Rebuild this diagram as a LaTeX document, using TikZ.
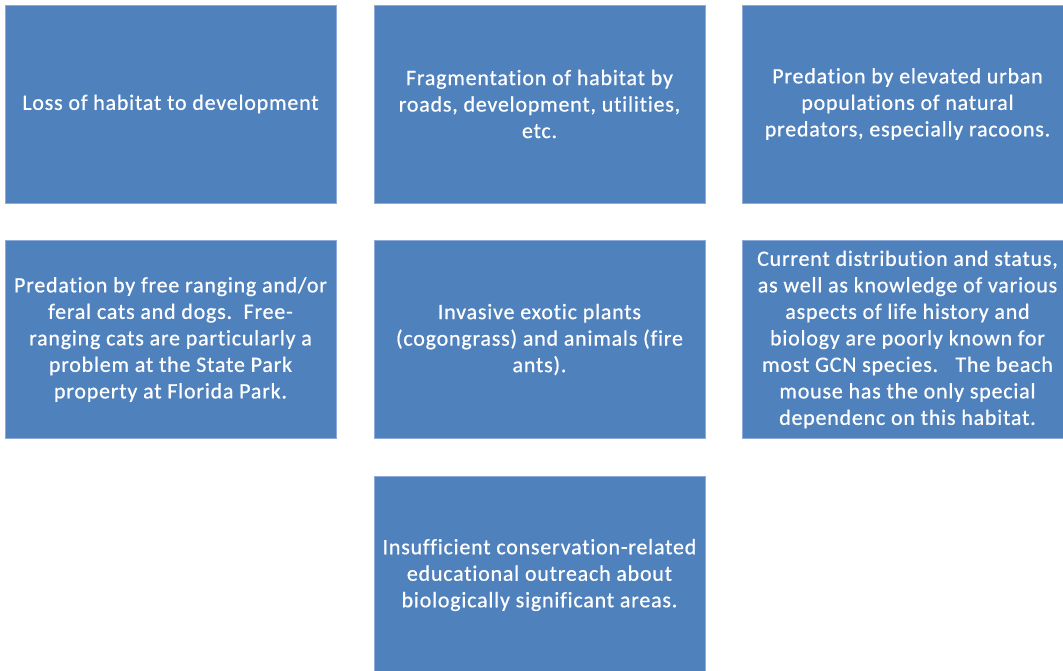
\documentclass[tikz,border=0pt]{standalone}
\usepackage{fontspec}
\setmainfont{Carlito}[Ligatures=NoCommon, LetterSpace=3.5, FakeBold=0.6]
\definecolor{boxfill}{HTML}{4F81BD}
\definecolor{boxline}{HTML}{8EAADB}
\begin{document}
\begin{tikzpicture}[x=1pt,y=-1pt,
  box/.style={rectangle, fill=boxfill, draw=boxline, line width=0.8pt,
    minimum width=331pt, minimum height=198pt, inner sep=0pt,
    text=white, align=center, font=\fontsize{22}{26.5}\selectfont}]
\useasboundingbox (0,0) rectangle (1063,670);
\clip (0,0) rectangle (1063,670);
\fill[white] (0,0) rectangle (1063,670);
\node[box] (b1) at (170.5,104) {Loss of habitat to development};
\node[box] (b2) at (539.5,104) {Fragmentation of habitat by\\roads, development, utilities,\\etc.};
\node[box] (b3) at (907.5,104) {Predation by elevated urban\\populations of natural\\predators, especially racoons.};
\node[box] (b4) at (170.5,339.5) {Predation by free ranging and/or\\feral cats and dogs.\ \ Free-\\ranging cats are particularly a\\problem at the State Park\\property at Florida Park.};
\node[box] (b5) at (539.5,339.5) {Invasive exotic plants\\(cogongrass) and animals (fire\\ants).};
\node[box] (b6) at (907.5,339.5) {Current distribution and status,\\as well as knowledge of various\\aspects of life history and\\biology are poorly known for\\most GCN species.\ \ \ The beach\\mouse has the only special\\dependenc on this habitat.};
\node[box] (b7) at (539.5,575) {Insufficient conservation-related\\educational outreach about\\biologically significant areas.};
\end{tikzpicture}
\end{document}
